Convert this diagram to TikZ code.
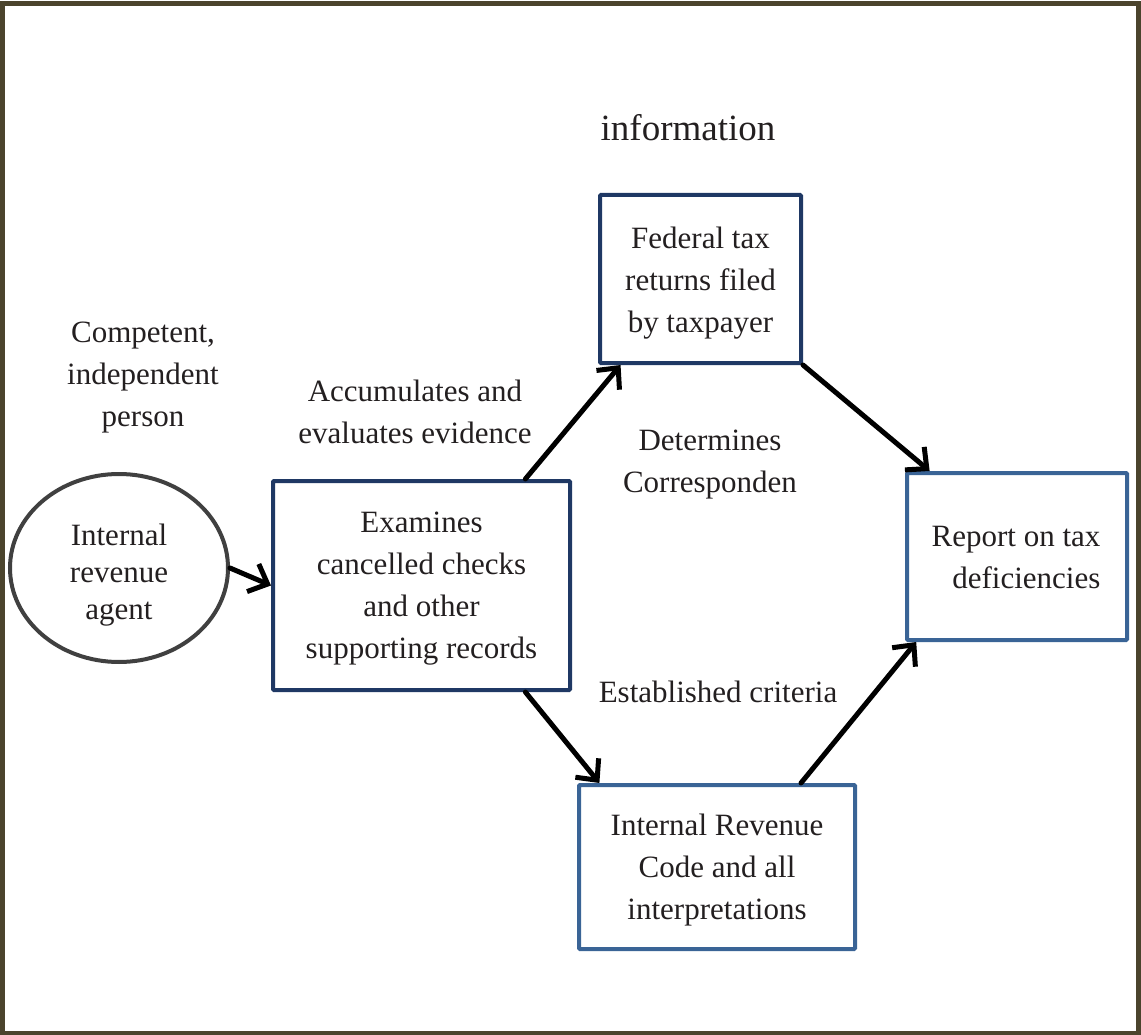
\documentclass[tikz,border=0pt]{standalone}
\usepackage{fontspec}
\setmainfont{Liberation Serif}
\usetikzlibrary{arrows.meta,calc,shapes.geometric}
\definecolor{framec}{HTML}{4B442D}
\definecolor{navy}{HTML}{1F3864}
\definecolor{steel}{HTML}{3A6496}
\definecolor{ink}{HTML}{231F20}
\definecolor{ringc}{HTML}{404040}
\begin{document}
\begin{tikzpicture}[x=1pt,y=-1pt,
  txt/.style={text=ink,font=\fontsize{31}{42}\selectfont,align=center,inner sep=0pt},
  darkbox/.style={draw=navy,line width=4pt,rounded corners=1pt,inner sep=0pt},
  lightbox/.style={draw=steel,line width=4pt,rounded corners=1pt,inner sep=0pt},
  flow/.style={line width=5pt,draw=black,line cap=round,-{Straight Barb[length=16pt,width=30pt,line width=5pt]}}]
\useasboundingbox (0,0) rectangle (1141,1035);
\draw[framec,line width=5pt] (2.5,4) rectangle (1138.5,1033);

\node[txt,font=\fontsize{37}{44}\selectfont] (info) at (688,128) {information};

\node[ellipse,draw=ringc,line width=4pt,minimum width=218pt,minimum height=188pt,inner sep=0pt] (agent) at (119,568) {};
\node[txt,font=\fontsize{31}{37}\selectfont] (agentt) at (119,575) {Internal\\revenue\\agent};
\node[darkbox,minimum width=297pt,minimum height=209pt] (exam) at (421.5,585.5) {};
\node[txt] (examt) at (421.5,589) {Examines\\cancelled checks\\and other\\supporting records};
\node[darkbox,minimum width=201pt,minimum height=168pt] (fed) at (700.5,279) {};
\node[txt] (fedt) at (700.5,283) {Federal tax\\returns filed\\by taxpayer};
\node[lightbox,minimum width=220pt,minimum height=167pt] (rep) at (1017,556.5) {};
\node[txt,align=right] (rept) at (1016,557) {Report on tax\\deficiencies};
\node[lightbox,minimum width=276pt,minimum height=164pt] (irc) at (717,867) {};
\node[txt] (irct) at (717,870) {Internal Revenue\\Code and all\\interpretations};

\node[txt] (comp) at (143,378) {Competent,\\independent\\person};
\node[txt] (acc) at (415,412) {Accumulates and\\evaluates evidence};
\node[txt] (det) at (710,465) {Determines\\Corresponden};
\node[txt] (est) at (718,692) {Established criteria};

\draw[flow] (agent.east) -- (exam.west);
\coordinate (e1) at ($(exam.north west)!0.845!(exam.north east)$);
\coordinate (f1) at ($(fed.south west)!0.11!(fed.south east)$);
\draw[flow] (e1) -- (f1);
\coordinate (r1) at ($(rep.north west)!0.11!(rep.north east)$);
\draw[flow] (fed.south east) -- (r1);
\coordinate (e2) at ($(exam.south west)!0.845!(exam.south east)$);
\coordinate (i1) at ($(irc.north west)!0.08!(irc.north east)$);
\draw[flow] (e2) -- (i1);
\coordinate (i2) at ($(irc.north west)!0.8!(irc.north east)$);
\coordinate (r2) at ($(rep.south west)!0.05!(rep.south east)$);
\draw[flow] (i2) -- (r2);
\end{tikzpicture}
\end{document}
